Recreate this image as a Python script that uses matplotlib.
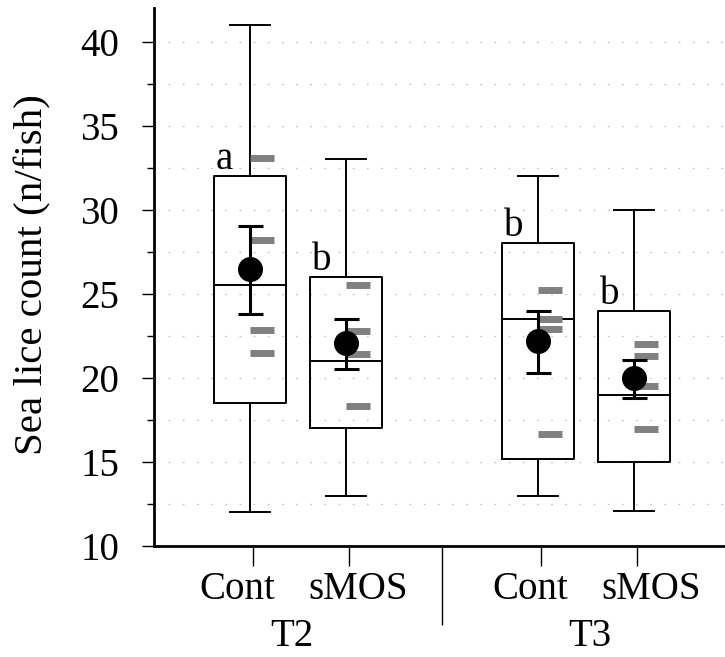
import numpy as np
import matplotlib
matplotlib.use("Agg")
import matplotlib.pyplot as plt

plt.rcParams['font.family'] = ['Liberation Serif', 'DejaVu Serif']

# --- data ---
groups = ["T2", "T3"]
treatments = ["Cont", "sMOS", "Cont", "sMOS"]
letters = ["a", "b", "b", "b"]

whis_lo = [12.0, 13.0, 13.0, 12.1]
q1 = [18.5, 17.0, 15.2, 15.0]
med = [25.5, 21.0, 23.5, 19.0]
q3 = [32.0, 26.0, 28.0, 24.0]
whis_hi = [41.0, 33.0, 32.0, 30.0]

mean = [26.5, 22.1, 22.2, 20.0]
err_lo = [23.8, 20.5, 20.3, 18.8]
err_hi = [29.05, 23.5, 23.95, 21.05]

# individual tank values (grey dashes)
points = [
    [33.05, 28.2, 22.86, 21.5],
    [25.55, 22.8, 21.4, 18.3],
    [25.24, 23.49, 22.92, 16.68],
    [22.0, 21.33, 19.54, 16.95],
]

pos = [1, 2, 4, 5]
sep = 3.0
label_x = [0.865, 2.125, 3.92, 5.18]
group_x = [1.44, 4.54]

fig = plt.figure(figsize=(7.25, 6.57), dpi=100)
ax = fig.add_axes([154 / 725, 1 - 546 / 657, 1 - 154 / 725, 538 / 657])

# grid
for y in np.arange(12.5, 40.1, 2.5):
    ax.axhline(y, color='#c4c4c4', lw=1, linestyle=(0, (1.2, 9)), zorder=0)

stats = []
for i in range(4):
    stats.append(dict(whislo=whis_lo[i], q1=q1[i], med=med[i], q3=q3[i],
                      whishi=whis_hi[i], fliers=[]))
lp = dict(color='black', lw=1.4)
ax.bxp(stats, positions=pos, widths=0.75, capwidths=0.41, showfliers=False,
       boxprops=lp, whiskerprops=lp, capprops=lp, medianprops=lp,
       manage_ticks=False, zorder=2)

for i in range(4):
    ax.hlines(points[i], pos[i], pos[i] + 0.25, color='#808080', lw=5, zorder=3)

yerr = [np.array(mean) - np.array(err_lo), np.array(err_hi) - np.array(mean)]
ax.errorbar(pos, mean, yerr=yerr, fmt='o', color='black', ms=17,
            elinewidth=2.2, capsize=9, capthick=2.2, zorder=4)

for i in range(4):
    ax.text(pos[i] - 0.355, q3[i] + 0.42, letters[i], fontsize=28,
            ha='left', va='baseline', zorder=5)

ax.set_xlim(0, 5.95)
ax.set_ylim(10, 42)

for s in ['top', 'right']:
    ax.spines[s].set_visible(False)
ax.spines['left'].set_linewidth(2)
ax.spines['bottom'].set_linewidth(2)

ax.set_yticks(np.arange(10, 41, 5))
ax.set_yticks(np.arange(12.5, 40, 5), minor=True)
ax.tick_params(axis='y', which='major', length=9, width=1, labelsize=28, pad=16)
ax.tick_params(axis='y', which='minor', length=5, width=1)

ax.set_xticks([p + 0.03 for p in pos])
ax.set_xticklabels([])
ax.set_xticks([sep], minor=True)
ax.tick_params(axis='x', which='major', length=14.5, width=1)
ax.tick_params(axis='x', which='minor', length=57, width=1)

tr = ax.get_xaxis_transform()
for x, t in zip(label_x, treatments):
    ax.text(x, -0.098, t, transform=tr, fontsize=28, ha='center', va='baseline')
for x, g in zip(group_x, groups):
    ax.text(x, -0.186, g, transform=tr, fontsize=28, ha='center', va='baseline')

fig.text(33 / 725, 1 - 275 / 657, "Sea lice count (n/fish)", rotation=90,
         fontsize=29.5, ha='center', va='center')

fig.savefig("out.png", dpi=100)
